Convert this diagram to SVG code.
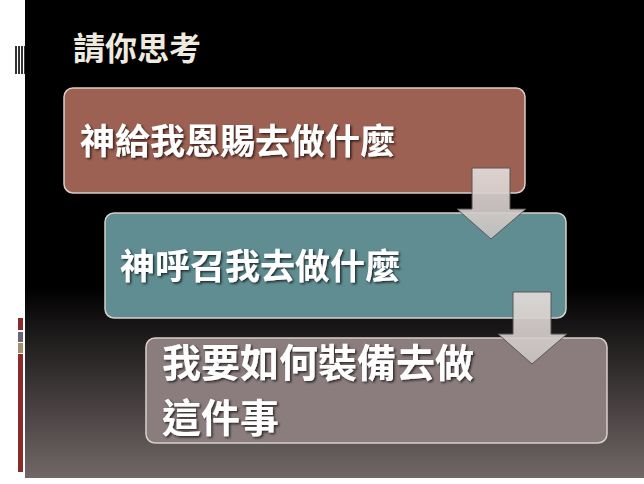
<svg xmlns="http://www.w3.org/2000/svg" width="644" height="484" viewBox="0 0 644 484">
<defs>
<linearGradient id="bg" x1="0" y1="0" x2="0" y2="1"><stop offset="0" stop-color="#000"/><stop offset="0.6" stop-color="#000"/><stop offset="1" stop-color="#726767"/></linearGradient>
<linearGradient id="ar" x1="0" y1="0" x2="0" y2="1"><stop offset="0" stop-color="#e4dcda"/><stop offset="1" stop-color="#c8c2c0"/></linearGradient>
<filter id="sh"><feDropShadow dx="1.5" dy="1.5" stdDeviation="1" flood-color="#000" flood-opacity="0.7"/></filter>
</defs>
<style>
.box{stroke:#d8d0cc;stroke-width:1.5}
.t{font-family:"Noto Sans CJK TC","Noto Sans CJK SC",sans-serif;font-weight:bold;fill:#fff;filter:url(#sh)}
.arrow{fill:url(#ar);stroke:#555;stroke-width:1;opacity:0.92}
</style>
<rect width="644" height="484" fill="#fff"/>
<rect x="25" y="0" width="619" height="478" fill="url(#bg)"/>
<g fill="#333"><rect x="15" y="46" width="2" height="28"/><rect x="18" y="46" width="2" height="28"/><rect x="21" y="46" width="2" height="28"/><rect x="24" y="46" width="1" height="28"/></g>
<rect x="18" y="318" width="5" height="12" fill="#8b2a2a"/>
<rect x="18" y="332" width="5" height="10" fill="#6a6570"/>
<rect x="18" y="343" width="5" height="10" fill="#a09070"/>
<rect x="18" y="354" width="5" height="118" fill="#8b2a2a"/>
<text x="73" y="60" font-size="32" font-weight="bold" font-family="Noto Sans CJK TC,sans-serif" fill="#efeadf">請你思考</text>
<g id="n1"><rect class="box" x="64" y="88" width="461" height="105" rx="9" fill="#9c6152"/><text class="t" x="80" y="154" font-size="35">神給我恩賜去做什麼</text></g>
<g id="n2"><rect class="box" x="105" y="213" width="461" height="105" rx="9" fill="#5f8d91"/><text class="t" x="120" y="279" font-size="35">神呼召我去做什麼</text></g>
<g id="n3"><rect class="box" x="146" y="338" width="461" height="105" rx="9" fill="#8b7d7d"/><text class="t" x="162" y="377" font-size="39">我要如何裝備去做</text><text class="t" x="162" y="432" font-size="39">這件事</text></g>
<g id="connectors">
<path class="arrow" d="M472 168H510V209H526L491 239L457 209H472Z"/>
<path class="arrow" d="M513 292H551V334H567L532 364L498 334H513Z"/>
</g>
</svg>
